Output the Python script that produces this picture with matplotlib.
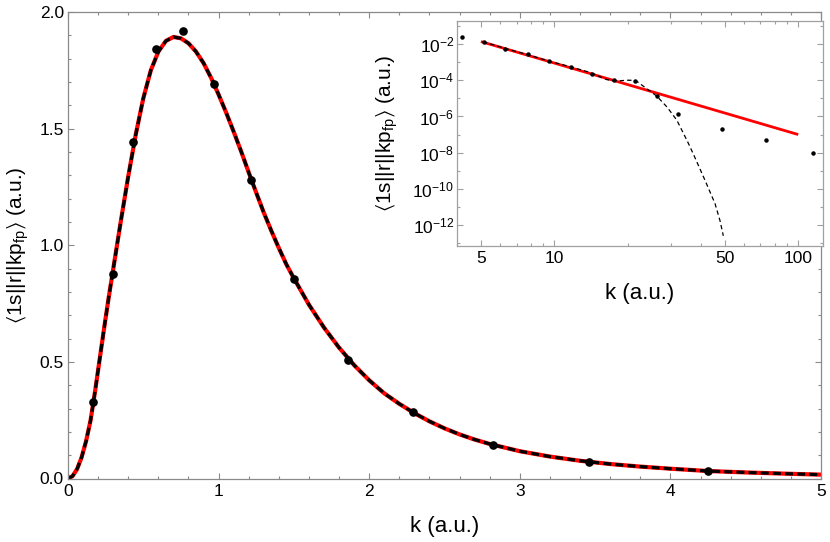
import matplotlib
matplotlib.use('Agg')
import matplotlib.pyplot as plt
from matplotlib.ticker import FixedLocator, MultipleLocator, LogFormatterSciNotation, NullFormatter, FixedFormatter

# ---------------- data ----------------
# main panel: smooth curve (red solid + black dashed overlay)
k_curve = [0.00, 0.03, 0.06, 0.09, 0.12, 0.15, 0.18, 0.21, 0.24, 0.27, 0.30,
           0.35, 0.40, 0.45, 0.50, 0.55, 0.60, 0.65, 0.70, 0.75, 0.80, 0.85,
           0.90, 0.95, 1.00, 1.05, 1.10, 1.15, 1.20, 1.25, 1.30, 1.35, 1.40,
           1.45, 1.50, 1.60, 1.70, 1.80, 1.90, 2.00, 2.10, 2.20, 2.30, 2.40,
           2.50, 2.60, 2.70, 2.80, 3.00, 3.20, 3.40, 3.60, 3.80, 4.00, 4.25,
           4.50, 4.75, 5.00]
y_curve = [0.000, 0.010, 0.040, 0.090, 0.160, 0.250, 0.375, 0.510, 0.645, 0.775, 0.897,
           1.100, 1.295, 1.475, 1.630, 1.750, 1.830, 1.876, 1.893, 1.887, 1.866, 1.830,
           1.781, 1.718, 1.646, 1.569, 1.487, 1.402, 1.312, 1.225, 1.140, 1.062, 0.988,
           0.918, 0.858, 0.745, 0.647, 0.561, 0.486, 0.421, 0.365, 0.320, 0.280, 0.245,
           0.215, 0.189, 0.167, 0.148, 0.117, 0.094, 0.076, 0.062, 0.051, 0.042, 0.032,
           0.026, 0.021, 0.0165]
# main panel: data points
k_pts = [0.168, 0.297, 0.432, 0.584, 0.761, 0.967, 1.213, 1.503, 1.857, 2.293, 2.820, 3.461, 4.248]
y_pts = [0.329, 0.876, 1.444, 1.843, 1.918, 1.691, 1.281, 0.856, 0.508, 0.284, 0.145, 0.071, 0.032]

x_ticks = [0, 1, 2, 3, 4, 5]
y_ticks = [0.0, 0.5, 1.0, 1.5, 2.0]
y_tick_labels = ['0.0', '0.5', '1.0', '1.5', '2.0']

# inset: data points
ki_pts = [4.2, 5.15, 6.3, 7.78, 9.49, 11.67, 14.3, 17.6, 21.4, 26.3, 32.2, 48.8, 74.0, 115.0]
yi_pts = [2.6e-2, 1.3e-2, 5.5e-3, 2.75e-3, 1.15e-3, 5.8e-4, 2.35e-4, 1.05e-4, 8.7e-5,
          1.35e-5, 1.3e-6, 1.95e-7, 4.7e-8, 9.1e-9]
# inset: power-law asymptote (red)
ki_line = [5.0, 100.0]
yi_line = [1.4e-2, 1.0e-7]
# inset: fitted curve (black dashed)
ki_fit = [5.1, 6.3, 7.78, 9.49, 11.67, 13.5, 14.4, 15.5, 16.4, 17.5, 18.7, 19.8, 21.0,
          21.8, 23.2, 24.6, 26.3, 29.0, 31.8, 35.3, 37.1, 41.5, 45.6, 47.8, 49.3]
yi_fit = [1.35e-2, 5.75e-3, 2.63e-3, 1.17e-3, 5.6e-4, 3.16e-4, 2.34e-4, 1.51e-4, 1.10e-4,
          9.5e-5, 9.5e-5, 1.02e-4, 1.0e-4, 8.7e-5, 4.7e-5, 2.6e-5, 1.35e-5, 3.3e-6, 6.2e-7,
          3.7e-8, 8.7e-9, 2.9e-10, 1.5e-11, 1.7e-12, 2.5e-13]
xi_ticks = [5, 10, 50, 100]
xi_tick_labels = ['5', '10', '50', '100']
xi_minor = [4, 6, 7, 8, 9, 20, 30, 40, 60, 70, 80, 90]
yi_ticks = [1e-2, 1e-4, 1e-6, 1e-8, 1e-10, 1e-12]
yi_minor = [1e-1, 1e-3, 1e-5, 1e-7, 1e-9, 1e-11, 1e-13]

ylabel_text = r'$\langle$1s||r||kp$_{\mathrm{fp}}\rangle$ (a.u.)'
xlabel_text = 'k (a.u.)'

# ---------------- style ----------------
plt.rcParams['font.family'] = ['Liberation Sans', 'DejaVu Sans']
plt.rcParams['mathtext.fontset'] = 'custom'
plt.rcParams['mathtext.rm'] = 'Liberation Sans'
plt.rcParams['mathtext.it'] = 'Liberation Sans:italic'
plt.rcParams['mathtext.bf'] = 'Liberation Sans:bold'
plt.rcParams['mathtext.fallback'] = 'stixsans'

frame_col = '#8a8a8a'
inset_frame = '#a0a0a0'

fig = plt.figure(figsize=(8.3, 5.42), dpi=100)
ax = fig.add_axes([68 / 830, 1 - 478.5 / 542, (821 - 68) / 830, (478.5 - 12) / 542])

ax.plot(k_curve, y_curve, color='#ff0000', lw=3.0, solid_capstyle='butt', zorder=2)
ax.plot(k_curve, y_curve, color='black', lw=2.3, dashes=(2.5, 1.3), zorder=2.5)
ax.plot(k_pts, y_pts, 'o', color='black', ms=5.2, zorder=3)

ax.set_xlim(0, 5)
ax.set_ylim(0, 2)
ax.xaxis.set_major_locator(FixedLocator(x_ticks))
ax.xaxis.set_minor_locator(MultipleLocator(0.2))
ax.yaxis.set_major_locator(FixedLocator(y_ticks))
ax.yaxis.set_major_formatter(FixedFormatter(y_tick_labels))
ax.yaxis.set_minor_locator(MultipleLocator(0.1))
for s in ax.spines.values():
    s.set_color(frame_col)
    s.set_linewidth(0.9)
ax.tick_params(which='both', direction='in', top=True, right=True, color=frame_col, width=0.8)
ax.tick_params(which='major', length=4, labelsize=12.5)
ax.tick_params(which='minor', length=2.3)
ax.tick_params(axis='x', pad=4)
ax.tick_params(axis='y', pad=3)
ax.set_xlabel(xlabel_text, fontsize=16, labelpad=12)
ax.set_ylabel(ylabel_text, fontsize=15, labelpad=6)

# ---------------- inset ----------------
axi = fig.add_axes([457 / 830, 1 - 245.7 / 542, (822.7 - 457) / 830, (245.7 - 20.7) / 542])
axi.set_facecolor('white')
axi.set_xscale('log')
axi.set_yscale('log')
axi.plot(ki_line, yi_line, color='#ff0000', lw=2.0, solid_capstyle='butt', zorder=2)
axi.plot(ki_fit, yi_fit, color='black', lw=0.9, dashes=(3.5, 2.5), zorder=2.5)
axi.plot(ki_pts, yi_pts, 'o', color='black', ms=2.2, zorder=3)
axi.set_xlim(3.99, 126)
axi.set_ylim(10 ** -13.15, 10 ** -0.7)
axi.xaxis.set_major_locator(FixedLocator(xi_ticks))
axi.xaxis.set_major_formatter(FixedFormatter(xi_tick_labels))
axi.xaxis.set_minor_locator(FixedLocator(xi_minor))
axi.xaxis.set_minor_formatter(NullFormatter())
axi.yaxis.set_major_locator(FixedLocator(yi_ticks))
axi.yaxis.set_major_formatter(LogFormatterSciNotation())
axi.yaxis.set_minor_locator(FixedLocator(yi_minor))
axi.yaxis.set_minor_formatter(NullFormatter())
for s in axi.spines.values():
    s.set_color(inset_frame)
    s.set_linewidth(0.9)
axi.tick_params(which='both', direction='in', top=True, right=True, color=inset_frame, width=0.8)
axi.tick_params(which='major', length=4, labelsize=12.5)
axi.tick_params(which='minor', length=2.3)
axi.tick_params(axis='x', pad=4)
axi.tick_params(axis='y', pad=2)
axi.set_xlabel(xlabel_text, fontsize=16, labelpad=12)
axi.set_ylabel(ylabel_text, fontsize=15, labelpad=9)

fig.savefig('out.png', dpi=100)
